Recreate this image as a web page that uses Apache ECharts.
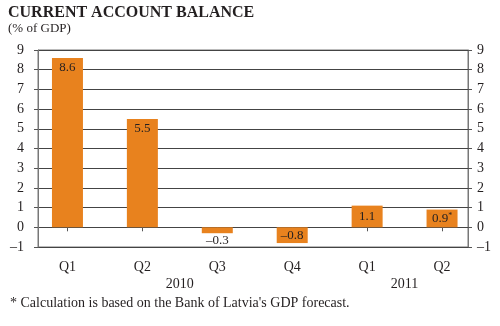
<!DOCTYPE html>
<html lang="en">
<head>
  <meta charset="UTF-8">
  <title>Current account balance</title>
  <style>
    body { margin: 0; background: #fff; }
    #main { width: 500px; height: 326px; }
  </style>
</head>
<body>
<div id="main"></div>
<script src="https://cdn.jsdelivr.net/npm/echarts@6/dist/echarts.min.js"></script>
<script type="text/javascript">
  const quarters = ['Q1', 'Q2', 'Q3', 'Q4', 'Q1', 'Q2']
  const balance = [8.6, 5.5, -0.3, -0.8, 1.1, 0.9]
  const years = ['2010', '2011']
  const yTicks = [-1, 0, 1, 2, 3, 4, 5, 6, 7, 8, 9]

  const serif = '"Liberation Serif", "DejaVu Serif", serif'
  const ink = '#231f20'
  const dash = (v) => String(v).replace('-', '\u2013')

  const chart = echarts.init(document.getElementById('main'))

  // label placement: tall bars get it at the top, the tiny negative one under the bar
  const bars = balance.map((v, i) => {
    let pos = 'inside'
    if (v > 3) pos = 'insideTop'
    if (v < 0 && v > -0.5) pos = 'bottom'
    return {
      value: v,
      label: {position: pos, distance: pos === 'insideTop' ? 3 : 1}
    }
  })

  const yBase = {
    type: 'value',
    min: yTicks[0],
    max: yTicks[yTicks.length - 1],
    interval: 1,
    axisLine: {show: true, onZero: false, lineStyle: {color: '#777', width: 1}},
    axisTick: {show: true, length: 4, lineStyle: {color: '#555'}},
    axisLabel: {
      fontFamily: serif, fontSize: 14, color: ink,
      formatter: (v) => dash(v)
    },
    splitLine: {show: false}
  }

  const option = {
    animation: false,
    title: {
      text: 'CURRENT ACCOUNT BALANCE',
      subtext: '(% of GDP)',
      left: 3,
      top: 0,
      itemGap: 1,
      textStyle: {fontFamily: serif, fontSize: 16, fontWeight: 'bold', color: ink},
      subtextStyle: {fontFamily: serif, fontSize: 13, color: ink}
    },
    grid: [
      {left: 38, right: 32, top: 50, bottom: 79, show: true, borderColor: '#777', borderWidth: 1},
      {left: 30, right: 20.5, top: 50, bottom: 79}
    ],
    xAxis: [
      {
        gridIndex: 0,
        type: 'category',
        data: quarters,
        axisLine: {show: false},
        axisTick: {show: false},
        axisLabel: {show: false}
      },
      {
        gridIndex: 1,
        type: 'category',
        data: quarters,
        axisLine: {show: false},
        axisTick: {
          show: true, alignWithLabel: true, length: 4,
          lineStyle: {color: '#555'}
        },
        axisLabel: {fontFamily: serif, fontSize: 14, color: ink, margin: 13}
      }
    ],
    yAxis: [
      Object.assign({}, yBase, {
        gridIndex: 0,
        position: 'left',
        axisLabel: Object.assign({}, yBase.axisLabel, {margin: 14}),
        splitLine: {show: true, lineStyle: {color: '#444', width: 1}}
      }),
      Object.assign({}, yBase, {
        gridIndex: 0,
        position: 'right',
        axisLabel: Object.assign({}, yBase.axisLabel, {margin: 9})
      }),
      {
        gridIndex: 1,
        type: 'value',
        min: yTicks[0],
        max: yTicks[yTicks.length - 1],
        interval: 1,
        show: false
      }
    ],
    graphic: [
      {
        type: 'text', left: 10, top: 296,
        style: {
          text: '* Calculation is based on the Bank of Latvia\'s GDP forecast.',
          font: '14px ' + serif, fill: ink
        }
      }
    ],
    series: [
      {
        type: 'bar',
        xAxisIndex: 1,
        yAxisIndex: 2,
        barWidth: 31,
        itemStyle: {color: '#e8821e'},
        label: {
          show: true,
          fontFamily: serif,
          fontSize: 13,
          color: ink,
          formatter: (p) => p.dataIndex === balance.length - 1
            ? dash(p.value) + '{sup|*}'
            : dash(p.value),
          rich: {
            sup: {fontFamily: serif, fontSize: 8, color: ink, verticalAlign: 'top', padding: [0, 0, 6, 0]}
          }
        },
        data: bars
      }
    ]
  }

  chart.setOption(option)

  // year captions centred between the two quarters they belong to
  const yearAt = [[1, 2], [4, 5]]
  const yearPos = yearAt.map(([a, b]) => {
    const xa = chart.convertToPixel({xAxisIndex: 1}, a)
    const xb = chart.convertToPixel({xAxisIndex: 1}, b)
    return (xa + xb) / 2
  })
  chart.setOption({
    graphic: option.graphic.concat(years.map((y, i) => ({
      type: 'text',
      x: yearPos[i],
      y: 277,
      style: {text: y, font: '14px ' + serif, fill: ink, align: 'center'}
    })))
  })
</script>
</body>
</html>
